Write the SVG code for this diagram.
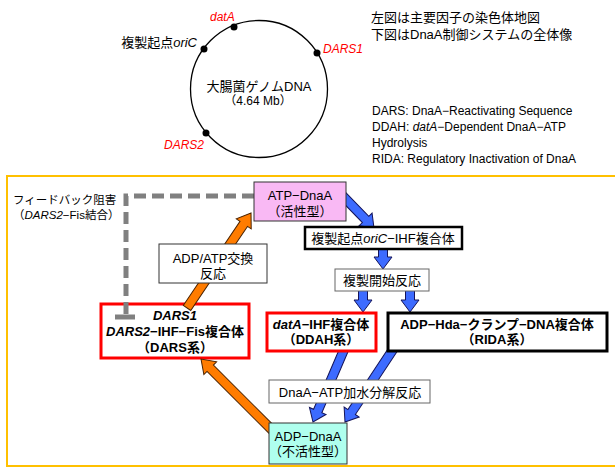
<svg xmlns="http://www.w3.org/2000/svg" width="615" height="468" viewBox="0 0 615 468">
<style>
text{font-family:"Liberation Sans","Noto Sans CJK JP",sans-serif;fill:#000;}
.t13{font-size:13px;}
.t12{font-size:12px;}
.t115{font-size:11.5px;}
.b{font-weight:bold;}
.i{font-style:italic;}
.c{text-anchor:middle;}
.red{fill:#FF0000;}
.blue{fill:#3D6BFF;stroke:#14145a;stroke-width:1;}
.orange{fill:#FF7C00;stroke:#4a2200;stroke-width:1;}
.thin{fill:#fff;stroke:#333;stroke-width:1;}
.gthin{fill:#fff;stroke:#666;stroke-width:1;}
.redbox{fill:#fff;stroke:#FF0000;stroke-width:3;}
.blkbox{fill:#fff;stroke:#000;stroke-width:3;}
</style>

<!-- Top: chromosome map -->
<g id="chromosome">
  <circle cx="259" cy="89" r="68.5" fill="none" stroke="#000" stroke-width="1.3"/>
  <circle cx="234" cy="27" r="3.5" fill="#000"/>
  <circle cx="204" cy="49" r="3.5" fill="#000"/>
  <circle cx="317" cy="53" r="3.5" fill="#000"/>
  <circle cx="206" cy="133" r="3.5" fill="#000"/>
  <text x="210" y="21" class="t12 i red">datA</text>
  <text x="197" y="47" class="t13" text-anchor="end">複製起点<tspan class="i">oriC</tspan></text>
  <text x="323" y="53" class="t12 i red">DARS1</text>
  <text x="164" y="149" class="t12 i red">DARS2</text>
  <text x="259" y="91" class="t13 c">大腸菌ゲノムDNA</text>
  <text x="258" y="105" class="t12 c">（4.64 Mb）</text>
</g>

<g id="caption">
  <text x="371" y="22" class="t13">左図は主要因子の染色体地図</text>
  <text x="371" y="39" class="t13">下図はDnaA制御システムの全体像</text>
</g>

<g id="legend">
  <text x="372" y="115" class="t12">DARS: DnaA−Reactivating Sequence</text>
  <text x="372" y="131" class="t12">DDAH: <tspan class="i">datA</tspan>−Dependent DnaA−ATP</text>
  <text x="372" y="147" class="t12">Hydrolysis</text>
  <text x="372" y="163" class="t12">RIDA: Regulatory Inactivation of DnaA</text>
</g>

<!-- Frame -->
<rect x="7" y="176" width="620" height="290" fill="none" stroke="#FFC000" stroke-width="2"/>

<g id="feedback-label">
  <text x="13" y="204" class="t115">フィードバック阻害</text>
  <text x="13" y="219" class="t115">（<tspan class="i">DARS2</tspan>−Fis結合）</text>
</g>

<!-- DARS node (drawn under the inhibition line) -->
<g id="dars">
  <rect x="101" y="304" width="148" height="54" class="redbox"/>
  <text x="175" y="320" class="t13 c b i">DARS1</text>
  <text x="175" y="336" class="t13 c b"><tspan class="i">DARS2</tspan>−IHF−Fis複合体</text>
  <text x="175" y="352" class="t13 c b">（DARS系）</text>
</g>

<!-- Connectors -->
<g id="connectors">
  <path d="M254,196 H126 V316" fill="none" stroke="#808080" stroke-width="5" stroke-dasharray="12,6"/>
  <path d="M115,317 H135" fill="none" stroke="#808080" stroke-width="5"/>
  <!-- orange -->
  <polygon class="orange" transform="translate(187,308) rotate(-56)" points="0,-4.5 101.5,-4.5 101.5,-9 114.5,0 101.5,9 101.5,4.5 0,4.5"/>
  <polygon class="orange" transform="translate(274,432) rotate(-135)" points="0,-4.5 90.2,-4.5 90.2,-9 103.2,0 90.2,9 90.2,4.5 0,4.5"/>
  <!-- blue -->
  <polygon class="blue" transform="translate(338,191) rotate(45.8)" points="0,-4.5 39.6,-4.5 39.6,-9 51.6,0 39.6,9 39.6,4.5 0,4.5"/>
  <polygon class="blue" transform="translate(383,245) rotate(90)" points="0,-4.5 12,-4.5 12,-9 24,0 12,9 12,4.5 0,4.5"/>
  <polygon class="blue" transform="translate(363,287) rotate(90)" points="0,-4.5 13,-4.5 13,-9 25,0 13,9 13,4.5 0,4.5"/>
  <polygon class="blue" transform="translate(410,287) rotate(90)" points="0,-4.5 13,-4.5 13,-9 25,0 13,9 13,4.5 0,4.5"/>
  <polygon class="blue" transform="translate(346,345) rotate(113.2)" points="0,-4.5 71.8,-4.5 71.8,-9 83.8,0 71.8,9 71.8,4.5 0,4.5"/>
  <polygon class="blue" transform="translate(396,345) rotate(123.5)" points="0,-4.5 80.4,-4.5 80.4,-9 92.4,0 80.4,9 80.4,4.5 0,4.5"/>
</g>

<!-- Nodes -->
<g id="atp-dnaa">
  <rect x="254" y="182" width="92" height="39" fill="#F9B9F4" stroke="#333" stroke-width="1"/>
  <text x="300" y="200" class="t13 c">ATP−DnaA</text>
  <text x="300" y="216" class="t13 c">（活性型）</text>
</g>

<g id="oric-ihf">
  <rect x="305" y="227" width="157" height="22" fill="#fff" stroke="#000" stroke-width="2.5"/>
  <text x="383" y="243" class="t13 c">複製起点<tspan class="i">oriC</tspan>−IHF複合体</text>
</g>

<g id="initiation">
  <rect x="335" y="269" width="94" height="22" class="gthin"/>
  <text x="382" y="285" class="t13 c">複製開始反応</text>
</g>

<g id="ddah">
  <rect x="267" y="313" width="109" height="38" class="redbox"/>
  <text x="321" y="329" class="t13 c b"><tspan class="i">datA</tspan>−IHF複合体</text>
  <text x="321" y="344" class="t13 c b">（DDAH系）</text>
</g>

<g id="rida">
  <rect x="388" y="313" width="219" height="38" class="blkbox"/>
  <text x="497" y="329" class="t13 c b">ADP−Hda−クランプ−DNA複合体</text>
  <text x="497" y="344" class="t13 c b">（RIDA系）</text>
</g>

<g id="exchange">
  <rect x="159" y="244" width="108" height="39" class="thin"/>
  <text x="213" y="263" class="t13 c">ADP/ATP交換</text>
  <text x="213" y="278" class="t13 c">反応</text>
</g>

<g id="hydrolysis">
  <rect x="269" y="380" width="161" height="23" class="gthin"/>
  <text x="350" y="397" class="t13 c">DnaA−ATP加水分解反応</text>
</g>

<g id="adp-dnaa">
  <rect x="269" y="423" width="78" height="41" fill="#AFFFEE" stroke="#333" stroke-width="1"/>
  <text x="308" y="441" class="t13 c">ADP−DnaA</text>
  <text x="308" y="456" class="t13 c">（不活性型）</text>
</g>
</svg>
